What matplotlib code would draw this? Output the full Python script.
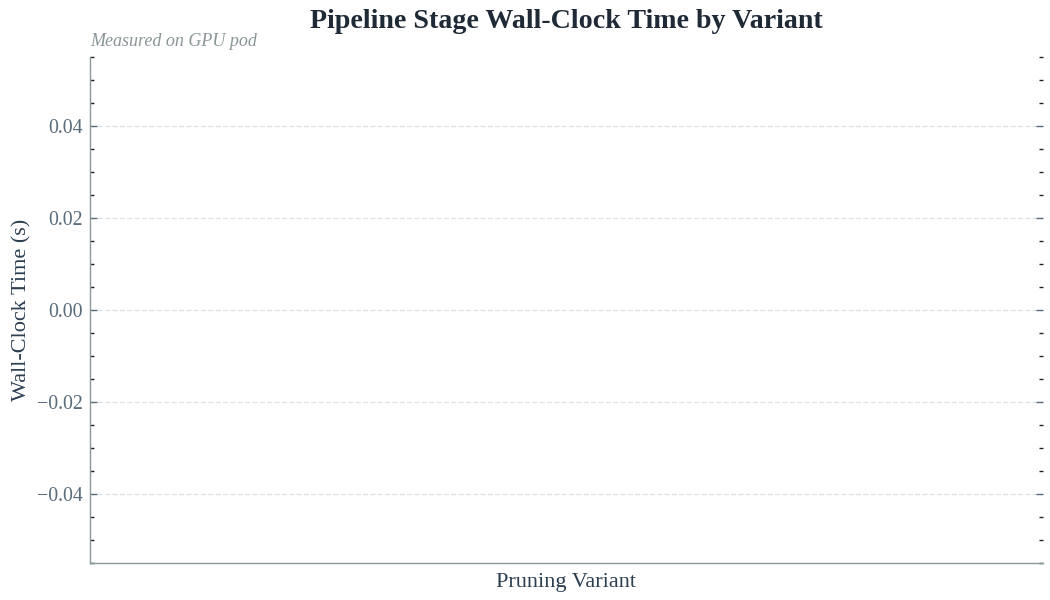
import matplotlib
matplotlib.use("Agg")
import matplotlib.pyplot as plt
from matplotlib.ticker import AutoMinorLocator

plt.rcParams['font.family'] = ['Liberation Serif', 'DejaVu Serif']
plt.rcParams['mathtext.fontset'] = 'stix'

categories = []
values = []
title = "Pipeline Stage Wall-Clock Time by Variant"
subtitle = "Measured on GPU pod"

fig = plt.figure(figsize=(10.5, 6), dpi=100)
ax = fig.add_axes([90/1050, 1-563/600, (1043-90)/1050, (563-57)/600])

ax.bar(categories, values, color="#4c72b0")
ax.set_ylim(-0.055, 0.055)
ax.set_xlim(0, 1)
ax.set_xticks([])
ax.set_yticks([-0.04, -0.02, 0.0, 0.02, 0.04])
ax.yaxis.set_minor_locator(AutoMinorLocator(4))

for s in ['top', 'right']:
    ax.spines[s].set_visible(False)
for s in ['left', 'bottom']:
    ax.spines[s].set_color('#8a9a9a')
    ax.spines[s].set_linewidth(1.0)

ax.tick_params(axis='y', which='major', direction='in', length=5, width=1,
               color='#5a6b7b', labelcolor='#5a6b7b', labelsize=14.3, left=True, right=True,
               pad=5)
ax.tick_params(axis='y', which='minor', direction='in', length=3, width=1,
               color='#222222', left=True, right=True)

ax.yaxis.grid(True, linestyle='--', color='#dde3e6', linewidth=1)
ax.set_axisbelow(True)

ax.set_ylabel("Wall-Clock Time (s)", fontsize=16, color='#2c3e50', labelpad=4)
ax.set_xlabel("Pruning Variant", fontsize=16, color='#2c3e50', labelpad=7)

fig.text(566/1050, 1-21/600, title, ha='center', va='center', fontsize=20.2,
         fontweight='bold', color='#1f2a36')
fig.text(90/1050, 1-42/600, subtitle, ha='left', va='center', fontsize=13,
         style='italic', color='#8a9598')

fig.savefig("out.png", dpi=100)
